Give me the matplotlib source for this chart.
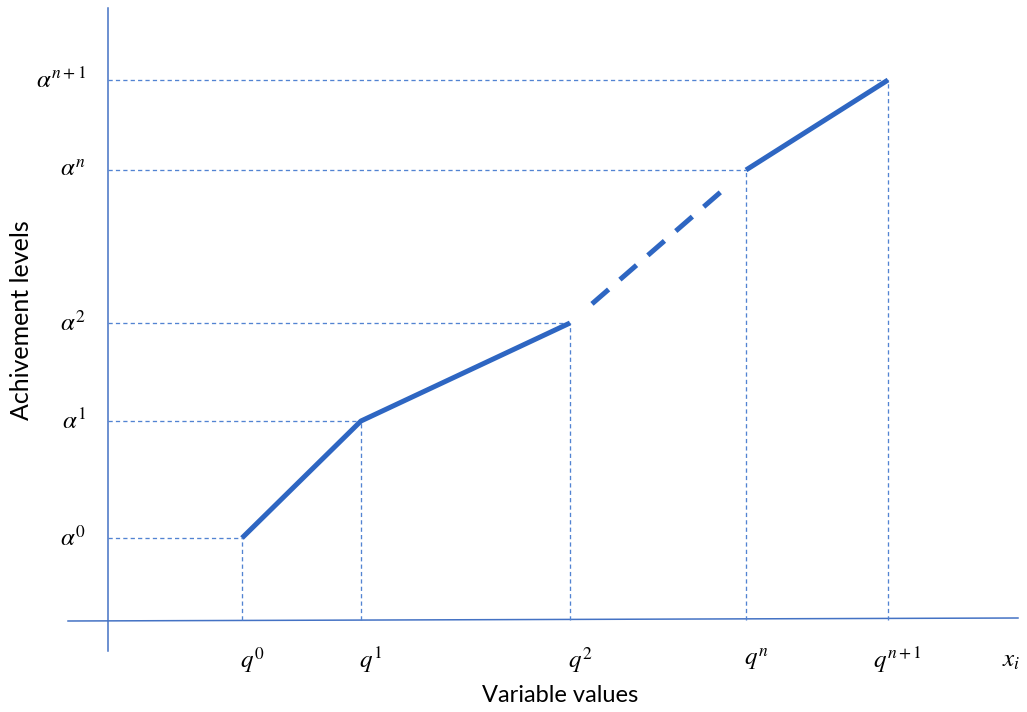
import matplotlib
matplotlib.use("Agg")
import matplotlib.pyplot as plt

plt.rcParams['mathtext.fontset'] = 'stix'

# Data (abstract units)
q_labels = [r"$q^{0}$", r"$q^{1}$", r"$q^{2}$", r"$q^{n}$", r"$q^{n+1}$"]
a_labels = [r"$\alpha^{0}$", r"$\alpha^{1}$", r"$\alpha^{2}$", r"$\alpha^{n}$", r"$\alpha^{n+1}$"]
q_values = [1.34, 2.53, 4.62, 6.38, 7.80]
a_values = [0.82, 1.99, 2.97, 4.50, 5.40]
# fraction of the q2->qn segment drawn dashed (gaps at both ends)
dash_frac = (0.125, 0.87)

W, H = 1027, 712
fig = plt.figure(figsize=(W / 100, H / 100), dpi=100)
ax = fig.add_axes([0, 0, 1, 1])
ax.set_xlim(-1.08, 9.19)
ax.set_ylim(-0.92, 6.20)
ax.axis('off')

axis_col = '#4472C4'
line_col = '#2E66C2'
guide_col = '#5283D2'

# axes
ax.plot([0, 0], [-0.31, 6.12], color=axis_col, lw=1.1)
ax.plot([-0.40, 9.10], [-0.01, 0.02], color=axis_col, lw=1.1)

# guide lines
for qv, av in zip(q_values, a_values):
    ax.plot([0, qv], [av, av], color=guide_col, lw=0.95, dashes=(3.2, 2.4))
    ax.plot([qv, qv], [0, av], color=guide_col, lw=0.95, dashes=(3.2, 2.4))

# solid segments
ax.plot(q_values[:3], a_values[:3], color=line_col, lw=3.6, solid_capstyle='butt')
ax.plot(q_values[3:], a_values[3:], color=line_col, lw=3.6, solid_capstyle='butt')

# dashed segment between q2 and qn
x0, x1 = q_values[2], q_values[3]
y0, y1 = a_values[2], a_values[3]
f0, f1 = dash_frac
ax.plot([x0 + f0 * (x1 - x0), x0 + f1 * (x1 - x0)],
        [y0 + f0 * (y1 - y0), y0 + f1 * (y1 - y0)],
        color=line_col, lw=3.6, dashes=(4.4, 3.0), dash_capstyle='butt')

# tick labels
for qv, lab in zip(q_values, q_labels):
    ax.annotate(lab, (qv, -0.40), xytext=(7, 0), textcoords='offset points',
                ha='center', va='center', fontsize=18)
for av, lab in zip(a_values, a_labels):
    ax.annotate(lab, (-0.22, av), ha='right', va='center', fontsize=18)

ax.text(9.12, -0.40, r"$x_i$", ha='right', va='center', fontsize=18)

ax.text(4.52, -0.75, "Variable values", ha='center', va='center',
        fontsize=17, family='Lato')
ax.text(-0.86, 3.00, "Achivement levels", ha='center', va='center',
        rotation=90, fontsize=18, family='Lato')

fig.savefig('out.png', dpi=100)
